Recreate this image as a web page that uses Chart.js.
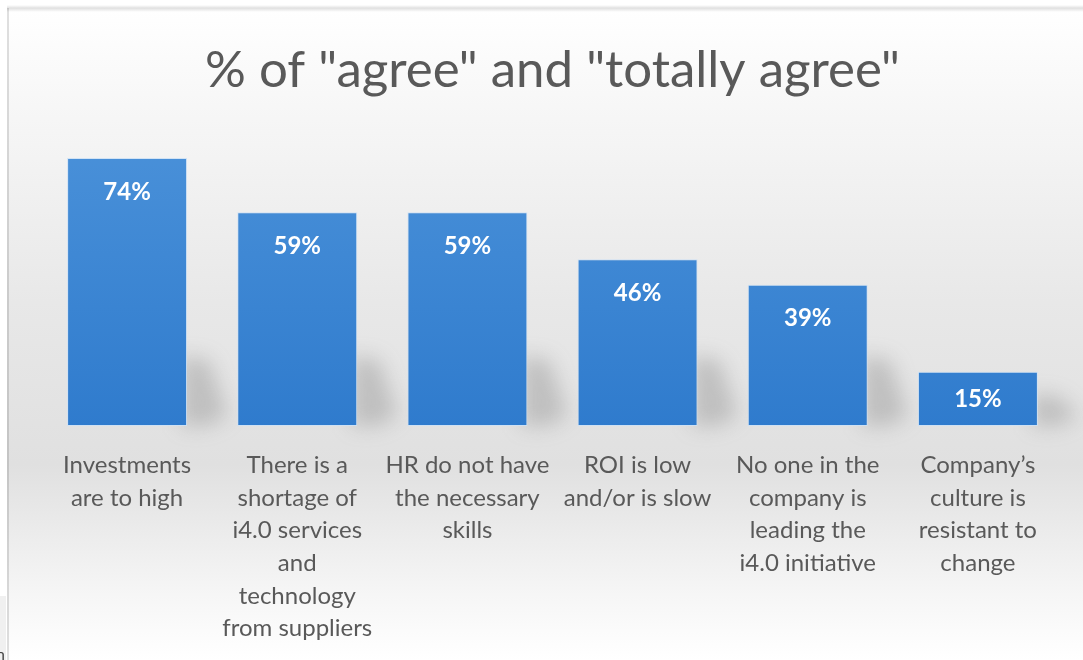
<!DOCTYPE html>
<html>
<head>
<meta charset="utf-8">
<script src="https://cdn.jsdelivr.net/npm/chart.js@4/dist/chart.umd.min.js"></script>
<style>
  html, body { margin: 0; padding: 0; background: #ffffff; }
  #wrap { width: 1083px; height: 660px; position: relative; }
</style>
</head>
<body>
<div id="wrap"><canvas id="agree-chart" width="1083" height="660"></canvas></div>
<script>
let chartTitle = '% of "agree" and "totally agree"';

let categoryLabels = [
  ["Investments", "are to high"],
  ["There is a", "shortage of", "i4.0 services", "and", "technology", "from suppliers"],
  ["HR do not have", "the necessary", "skills"],
  ["ROI is low", "and/or is slow"],
  ["No one in the", "company is", "leading the", "i4.0 initiative"],
  ["Company\u2019s", "culture is", "resistant to", "change"],
];

let agreeValues = [74, 59, 59, 46, 39, 15];

let yMin = 0;
let yMax = 80;

// frame + soft grey background behind the whole chart
let backgroundPlugin = {
  id: "background",
  beforeDraw(chart) {
    let ctx = chart.ctx;
    ctx.save();
    ctx.fillStyle = "#ffffff";
    ctx.fillRect(0, 0, chart.width, chart.height);
    let g = ctx.createLinearGradient(0, 8, 0, chart.height);
    g.addColorStop(0, "#ffffff");
    g.addColorStop(0.15, "#f7f7f7");
    g.addColorStop(0.45, "#e8e8e8");
    g.addColorStop(0.7, "#e0e0e0");
    g.addColorStop(0.9, "#f6f6f6");
    g.addColorStop(1, "#ffffff");
    ctx.fillStyle = g;
    ctx.fillRect(7, 8, chart.width - 7, chart.height - 8);
    // top edge shadow
    let t = ctx.createLinearGradient(0, 5, 0, 12);
    t.addColorStop(0, "rgba(0,0,0,0)");
    t.addColorStop(0.45, "rgba(0,0,0,0.12)");
    t.addColorStop(1, "rgba(0,0,0,0)");
    ctx.fillStyle = t;
    ctx.fillRect(7, 5, chart.width - 7, 7);
    ctx.fillStyle = "rgba(0,0,0,0.12)";
    ctx.fillRect(7, 8, 2, chart.height - 8);
    // cut-off page fragment at the bottom left
    ctx.fillStyle = "#f0f0f0";
    ctx.fillRect(0, 596, 6, 64);
    ctx.fillStyle = "#444444";
    ctx.font = "16px Lato";
    ctx.textAlign = "left";
    ctx.textBaseline = "alphabetic";
    ctx.fillText("n", -4, 660);
    ctx.restore();
  },
};

// soft blurred shadows to the right of each bar
let barShadowPlugin = {
  id: "barShadow",
  beforeDatasetsDraw(chart) {
    let ctx = chart.ctx;
    let meta = chart.getDatasetMeta(0);
    ctx.save();
    ctx.filter = "blur(10px)";
    meta.data.forEach((bar) => {
      let right = bar.x + bar.width / 2;
      let bottom = bar.base;
      let h = Math.min(70, (bar.base - bar.y) * 0.6);
      ctx.fillStyle = "rgba(110,110,110,0.3)";
      ctx.beginPath();
      ctx.moveTo(right - 6, bottom - h);
      ctx.lineTo(right + 22, bottom - h + 4);
      ctx.lineTo(right + 40, bottom - 10);
      ctx.lineTo(right + 20, bottom);
      ctx.lineTo(right - 6, bottom);
      ctx.closePath();
      ctx.fill();
    });
    ctx.restore();
  },
};

// white percentage labels inside the top of each bar
let valueLabelPlugin = {
  id: "valueLabels",
  afterDatasetsDraw(chart) {
    let ctx = chart.ctx;
    let meta = chart.getDatasetMeta(0);
    ctx.save();
    ctx.font = "bold 24px Lato";
    ctx.fillStyle = "#ffffff";
    ctx.textAlign = "center";
    ctx.textBaseline = "middle";
    meta.data.forEach((bar, i) => {
      let y = Math.min(bar.y + 34, (bar.y + bar.base) / 2);
      ctx.fillText(agreeValues[i] + "%", bar.x, y);
    });
    ctx.restore();
  },
};

new Chart("agree-chart", {
  type: "bar",
  data: {
    labels: categoryLabels,
    datasets: [
      {
        label: "",
        data: agreeValues,
        backgroundColor: function (context) {
          let area = context.chart.chartArea;
          if (!area) return "#3a85d2";
          let g = context.chart.ctx.createLinearGradient(0, area.top, 0, area.bottom);
          g.addColorStop(0, "#4a91d9");
          g.addColorStop(1, "#2f7bcd");
          return g;
        },
        borderColor: "rgba(205,225,245,0.9)",
        borderWidth: 1,
        borderSkipped: false,
        categoryPercentage: 1,
        barPercentage: 0.705,
      },
    ],
  },
  options: {
    responsive: false,
    animation: false,
    layout: {
      padding: { left: 42, right: 20, top: 0, bottom: 0 },
    },
    plugins: {
      title: {
        display: true,
        text: chartTitle,
        color: "#595959",
        font: { family: "Lato", size: 51, weight: "normal", lineHeight: 1.2 },
        padding: { top: 40, bottom: 35 },
      },
      legend: { display: false },
      tooltip: { enabled: false },
    },
    scales: {
      x: {
        grid: { display: false },
        border: { display: false },
        ticks: {
          color: "#595959",
          font: { family: "Lato", size: 24, lineHeight: 1.36 },
          padding: 15,
          maxRotation: 0,
          autoSkip: false,
        },
        afterFit: function (scale) {
          scale.height = 234;
        },
      },
      y: {
        display: false,
        min: yMin,
        max: yMax,
      },
    },
  },
  plugins: [backgroundPlugin, barShadowPlugin, valueLabelPlugin],
});
</script>
</body>
</html>
